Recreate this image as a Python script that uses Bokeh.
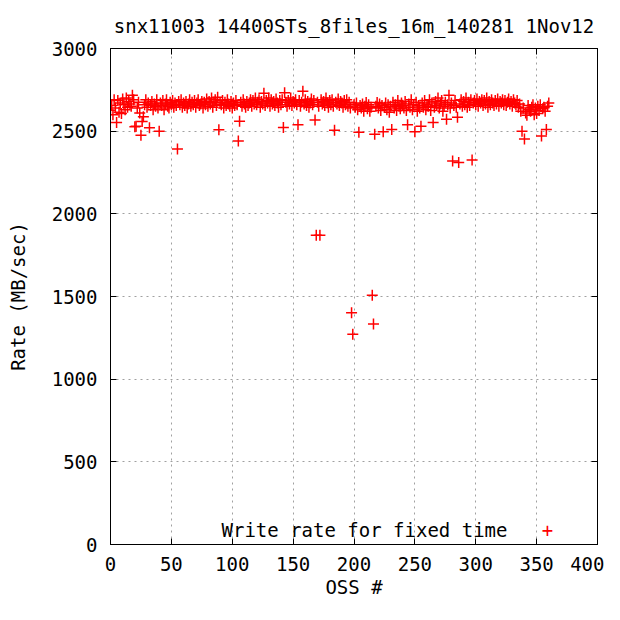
from bokeh.plotting import figure
from bokeh.models import LinearAxis, Label, FixedTicker, Range1d, ColumnDataSource
from bokeh.embed import file_html
from bokeh.resources import INLINE

title_text = "snx11003 14400STs_8files_16m_140281 1Nov12"
x_label = "OSS #"
y_label = "Rate (MB/sec)"
series_name = "Write rate for fixed time"
x_ticks = [0, 50, 100, 150, 200, 250, 300, 350, 400]
y_ticks = [0, 500, 1000, 1500, 2000, 2500, 3000]

rate_000_059 = [
    2626, 2655, 2600, 2690, 2640, 2552, 2685, 2615, 2670, 2607, 2695, 2660, 2630, 2700, 2645, 2680, 2665, 2650, 2717, 2690,
    2527, 2530, 2640, 2675, 2610, 2475, 2558, 2587, 2660, 2690, 2645, 2670, 2520, 2655, 2680, 2630, 2665, 2650, 2690, 2640,
    2500, 2670, 2655, 2685, 2630, 2665, 2690, 2650, 2640, 2675, 2660, 2685, 2645, 2670, 2655, 2392, 2680, 2660, 2690, 2645,
]
rate_060_119 = [
    2670, 2655, 2680, 2640, 2665, 2690, 2650, 2675, 2660, 2685, 2645, 2670, 2690, 2655, 2665, 2680, 2640, 2675, 2660, 2695,
    2650, 2680, 2665, 2700, 2645, 2675, 2690, 2655, 2705, 2508, 2670, 2660, 2685, 2640, 2675, 2655, 2690, 2665, 2650, 2680,
    2640, 2670, 2655, 2685, 2660, 2440, 2560, 2675, 2650, 2690, 2665, 2645, 2680, 2655, 2670, 2690, 2650, 2685, 2665, 2700,
]
rate_120_179 = [
    2660, 2675, 2690, 2645, 2680, 2665, 2729, 2655, 2685, 2670, 2700, 2650, 2690, 2665, 2680, 2655, 2695, 2670, 2645, 2685,
    2660, 2690, 2522, 2733, 2675, 2650, 2685, 2665, 2700, 2655, 2680, 2670, 2690, 2660, 2539, 2685, 2650, 2675, 2742, 2665,
    2690, 2655, 2680, 2645, 2670, 2695, 2660, 2685, 2568, 1870, 2675, 2650, 1870, 2690, 2665, 2680, 2655, 2700, 2670, 2645,
]
rate_180_239 = [
    2685, 2660, 2690, 2650, 2506, 2675, 2665, 2695, 2655, 2680, 2670, 2645, 2685, 2660, 2690, 2650, 2675, 2640, 1401, 1272,
    2660, 2645, 2670, 2630, 2493, 2655, 2640, 2665, 2620, 2650, 2674, 2635, 2660, 2620, 2645, 1508, 1334, 2481, 2650, 2674,
    2640, 2665, 2625, 2655, 2496, 2645, 2670, 2630, 2660, 2615, 2650, 2510, 2675, 2640, 2660, 2625, 2685, 2650, 2635, 2670,
]
rate_240_299 = [
    2655, 2640, 2680, 2625, 2539, 2665, 2645, 2690, 2630, 2660, 2496, 2675, 2620, 2655, 2640, 2529, 2670, 2645, 2685, 2630,
    2660, 2650, 2690, 2625, 2670, 2552, 2645, 2680, 2655, 2700, 2640, 2665, 2685, 2620, 2650, 2675, 2572, 2660, 2717, 2640,
    2670, 2320, 2655, 2685, 2645, 2584, 2310, 2665, 2690, 2650, 2680, 2660, 2700, 2645, 2675, 2655, 2690, 2325, 2670, 2685,
]
rate_300_360 = [
    2660, 2695, 2650, 2680, 2670, 2690, 2655, 2685, 2665, 2700, 2645, 2680, 2660, 2690, 2670, 2655, 2685, 2665, 2695, 2650,
    2680, 2670, 2690, 2660, 2685, 2655, 2675, 2695, 2665, 2680, 2650, 2690, 2670, 2660, 2685, 2645, 2665, 2620, 2500, 2640,
    2452, 2610, 2597, 2655, 2630, 2620, 2645, 2660, 2600, 2640, 2607, 2650, 2625, 2660, 2471, 2635, 2645, 2620, 2510, 2650,
    2670,
]

rates = rate_000_059 + rate_060_119 + rate_120_179 + rate_180_239 + rate_240_299 + rate_300_360
oss = list(range(len(rates)))

FONT = "DejaVu Sans Mono"
FS = "19px"
RED = "#ff0000"
FW, FH = 487, 496

p = figure(frame_width=FW, frame_height=FH,
           x_range=Range1d(0, 400), y_range=Range1d(0, 3000),
           output_backend="svg", toolbar_location=None,
           min_border_left=110, min_border_right=7, min_border_top=40, min_border_bottom=58)

src = ColumnDataSource(dict(x=oss, y=rates))
p.scatter("x", "y", source=src, marker="cross", size=11, line_color=RED, line_width=1.5)

p.title.text = title_text
p.title.align = "center"
p.title.text_font = FONT
p.title.text_font_size = FS
p.title.text_font_style = "normal"
p.title.text_color = "black"
p.title.standoff = 24

for ax in p.xaxis:
    ax.ticker = FixedTicker(ticks=x_ticks)
    ax.axis_label = x_label
    ax.major_label_standoff = 12
    ax.axis_label_standoff = 2
for ax in p.yaxis:
    ax.ticker = FixedTicker(ticks=y_ticks)
    ax.axis_label = y_label
    ax.major_label_standoff = 13
    ax.axis_label_standoff = 20

for ax in list(p.xaxis) + list(p.yaxis):
    ax.major_tick_in = 6
    ax.major_tick_out = 0
    ax.minor_tick_in = 0
    ax.minor_tick_out = 0
    ax.major_label_text_font = FONT
    ax.major_label_text_font_size = FS
    ax.major_label_text_color = "black"
    ax.axis_label_text_font = FONT
    ax.axis_label_text_font_size = FS
    ax.axis_label_text_font_style = "normal"
    ax.axis_label_text_color = "black"
    ax.axis_line_color = "black"
    ax.major_tick_line_color = "black"

top_ax = LinearAxis(ticker=FixedTicker(ticks=x_ticks), major_label_text_color=None,
                    major_tick_in=6, major_tick_out=0, minor_tick_in=0, minor_tick_out=0,
                    axis_line_color="black", major_label_standoff=0)
right_ax = LinearAxis(ticker=FixedTicker(ticks=y_ticks), major_label_text_color=None,
                      major_tick_in=6, major_tick_out=0, minor_tick_in=0, minor_tick_out=0,
                      axis_line_color="black", major_label_standoff=0)
p.add_layout(top_ax, "above")
p.add_layout(right_ax, "right")

p.xgrid.ticker = FixedTicker(ticks=x_ticks[1:-1])
p.ygrid.ticker = FixedTicker(ticks=y_ticks[1:-1])
for g in (p.xgrid, p.ygrid):
    g.grid_line_color = "#a0a0a0"
    g.grid_line_dash = "2 4"
    g.grid_line_width = 1

p.outline_line_color = "black"
p.outline_line_width = 1
p.background_fill_color = "white"
p.border_fill_color = "white"

# key (screen units are relative to the frame's bottom-left corner)
p.add_layout(Label(x=397, y=15, x_units="screen", y_units="screen", text=series_name,
                   text_font=FONT, text_font_size=FS, text_align="right", text_baseline="middle",
                   text_color="black"))
p.add_layout(Label(x=437, y=15, x_units="screen", y_units="screen", text="+",
                   text_font=FONT, text_font_size=FS, text_align="center", text_baseline="middle",
                   text_color=RED))

open("out.html", "w").write(file_html(p, INLINE))
